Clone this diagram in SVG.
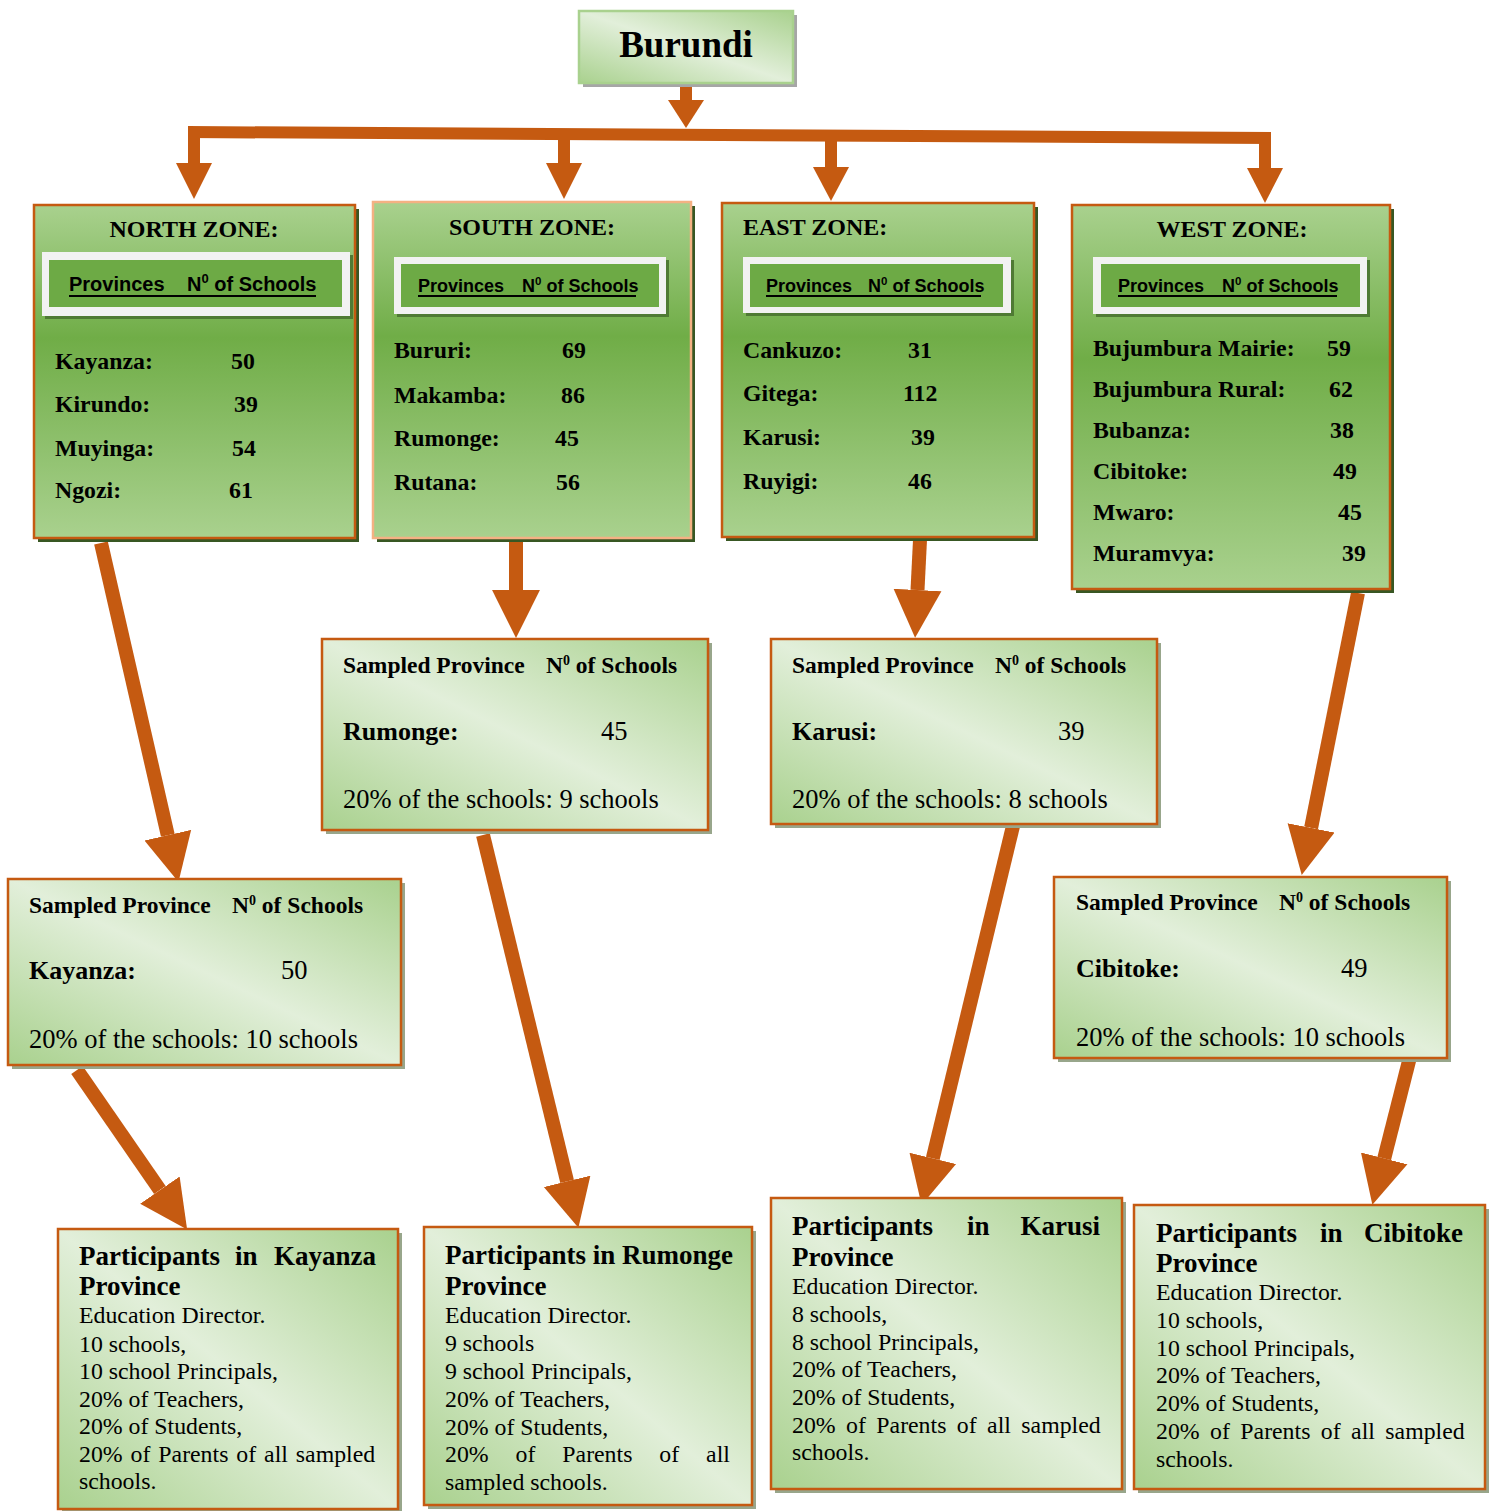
<svg xmlns="http://www.w3.org/2000/svg" width="1492" height="1511" viewBox="0 0 1492 1511">
<defs>
<linearGradient id="gz" x1="0" y1="0" x2="0" y2="1">
<stop offset="0" stop-color="#A9D18E"/><stop offset="0.4" stop-color="#70AD47"/><stop offset="1" stop-color="#A9D18E"/>
</linearGradient>
<linearGradient id="gl" x1="0" y1="1" x2="1" y2="0">
<stop offset="0" stop-color="#A9D18E"/><stop offset="0.5" stop-color="#E2EFDA"/><stop offset="1" stop-color="#A9D18E"/>
</linearGradient>
<marker id="ah" markerUnits="userSpaceOnUse" markerWidth="50" markerHeight="50" viewBox="0 -24 48 48" refX="0" refY="0" orient="auto">
<path d="M0,-23 L46,0 L0,23 Z" fill="#C55A11"/>
</marker>
<style>
.zone{fill:url(#gz);stroke:#C55A11;stroke-width:2.5}
.zsh{fill:#385723}
.lt{fill:url(#gl);stroke:#C55A11;stroke-width:2.5}
.lsh{fill:#98A68B}
.hf{fill:#F2F2F2}
.hg{fill:#6DAA45}
.hs{fill:#4F7A34}
.ul{stroke:#000;stroke-width:2}
text{fill:#000}
.zt{font:bold 24px "Liberation Serif",serif}
.zr{font:bold 23.8px "Liberation Serif",serif}
.hd{font:bold 20px "Liberation Sans",sans-serif}
.hd2{font:bold 18px "Liberation Sans",sans-serif}
.sh{font:bold 23.5px "Liberation Serif",serif}
.sn{font:bold 26px "Liberation Serif",serif}
.sv{font:26.5px "Liberation Serif",serif}
.pt{font:bold 27px "Liberation Serif",serif}
.pb{font:23.8px "Liberation Serif",serif}
.arr{stroke:#C55A11;stroke-width:14;fill:none;marker-end:url(#ah)}
.ar{fill:#C55A11}
</style>
</defs>

<g id="connectors">
<rect class="ar" x="680" y="83" width="12" height="18"/>
<polygon class="ar" points="668,100 704,100 686,128"/>
<polygon class="ar" points="188,126 1271,132 1271,144 188,138"/>
<rect class="ar" x="188" y="136" width="12" height="28"/>
<polygon class="ar" points="176,163 212,163 194,199"/>
<rect class="ar" x="558" y="136" width="12" height="28"/>
<polygon class="ar" points="546,163 582,163 564,199"/>
<rect class="ar" x="825" y="138" width="12" height="30"/>
<polygon class="ar" points="813,167 849,167 831,201"/>
<rect class="ar" x="1259" y="140" width="12" height="29"/>
<polygon class="ar" points="1247,168 1283,168 1265,203"/>
<line class="arr" x1="101" y1="543" x2="167.8" y2="835.2"/>
<line class="arr" x1="77" y1="1070" x2="159.9" y2="1190.1"/>
<line class="arr" x1="516" y1="540" x2="516" y2="590"/>
<line class="arr" x1="483" y1="835" x2="567.1" y2="1181.3"/>
<line class="arr" x1="920" y1="540" x2="917.5" y2="590"/>
<line class="arr" x1="1013" y1="826" x2="932.8" y2="1158.3"/>
<line class="arr" x1="1358" y1="593" x2="1311.1" y2="827.9"/>
<line class="arr" x1="1410" y1="1057" x2="1384.2" y2="1158.4"/>
</g>

<g id="burundi">
<rect x="583" y="15" width="214" height="72" fill="#A6A6A6"/>
<rect x="579" y="11" width="214" height="72" fill="url(#gl)" stroke="#A9D18E" stroke-width="2.5"/>
<text x="686" y="57" text-anchor="middle" style="font:bold 37px 'Liberation Serif',serif">Burundi</text>
</g>

<g id="north-zone">
<rect class="zsh" x="38" y="209" width="321" height="333"/>
<rect class="zone" x="34" y="205" width="321" height="333"/>
<text class="zt" x="194" y="237" text-anchor="middle">NORTH ZONE:</text>
<rect class="hs" x="45" y="255" width="308" height="64"/>
<rect class="hf" x="42" y="252" width="308" height="64"/>
<rect class="hg" x="49" y="260" width="293" height="47"/>
<text class="hd" x="69" y="291">Provinces<tspan x="187">N</tspan><tspan dy="-8" font-size="13">0</tspan><tspan dy="8"> of Schools</tspan></text>
<line class="ul" x1="69" y1="296" x2="316" y2="296"/>
<text class="zr" x="55" y="369">Kayanza:</text><text class="zr" x="231" y="369">50</text>
<text class="zr" x="55" y="412">Kirundo:</text><text class="zr" x="234" y="412">39</text>
<text class="zr" x="55" y="456">Muyinga:</text><text class="zr" x="232" y="456">54</text>
<text class="zr" x="55" y="498">Ngozi:</text><text class="zr" x="229" y="498">61</text>
</g>

<g id="south-zone">
<rect class="zsh" x="377" y="206" width="318" height="336"/>
<rect class="zone" x="373" y="202" width="318" height="336" style="stroke:#F4B183"/>
<text class="zt" x="532" y="235" text-anchor="middle">SOUTH ZONE:</text>
<rect class="hs" x="397" y="260" width="272" height="57"/>
<rect class="hf" x="394" y="257" width="272" height="57"/>
<rect class="hg" x="401" y="264" width="258" height="43"/>
<text class="hd2" x="418" y="292">Provinces<tspan x="522">N</tspan><tspan dy="-7" font-size="11.5">0</tspan><tspan dy="7"> of Schools</tspan></text>
<line class="ul" x1="418" y1="296" x2="636" y2="296"/>
<text class="zr" x="394" y="358">Bururi:</text><text class="zr" x="562" y="358">69</text>
<text class="zr" x="394" y="403">Makamba:</text><text class="zr" x="561" y="403">86</text>
<text class="zr" x="394" y="446">Rumonge:</text><text class="zr" x="555" y="446">45</text>
<text class="zr" x="394" y="490">Rutana:</text><text class="zr" x="556" y="490">56</text>
</g>

<g id="east-zone">
<rect class="zsh" x="726" y="207" width="312" height="334"/>
<rect class="zone" x="722" y="203" width="312" height="334"/>
<text class="zt" x="743" y="235">EAST ZONE:</text>
<rect class="hs" x="746" y="260" width="268" height="56"/>
<rect class="hf" x="743" y="257" width="268" height="56"/>
<rect class="hg" x="750" y="264" width="253" height="43"/>
<text class="hd2" x="766" y="292">Provinces<tspan x="868">N</tspan><tspan dy="-7" font-size="11.5">0</tspan><tspan dy="7"> of Schools</tspan></text>
<line class="ul" x1="766" y1="296" x2="981" y2="296"/>
<text class="zr" x="743" y="358">Cankuzo:</text><text class="zr" x="908" y="358">31</text>
<text class="zr" x="743" y="401">Gitega:</text><text class="zr" x="903" y="401">112</text>
<text class="zr" x="743" y="445">Karusi:</text><text class="zr" x="911" y="445">39</text>
<text class="zr" x="743" y="489">Ruyigi:</text><text class="zr" x="908" y="489">46</text>
</g>

<g id="west-zone">
<rect class="zsh" x="1076" y="209" width="318" height="384"/>
<rect class="zone" x="1072" y="205" width="318" height="384"/>
<text class="zt" x="1232" y="237" text-anchor="middle">WEST ZONE:</text>
<rect class="hs" x="1096" y="260" width="274" height="57"/>
<rect class="hf" x="1093" y="257" width="274" height="57"/>
<rect class="hg" x="1101" y="264" width="259" height="43"/>
<text class="hd2" x="1118" y="292">Provinces<tspan x="1222">N</tspan><tspan dy="-7" font-size="11.5">0</tspan><tspan dy="7"> of Schools</tspan></text>
<line class="ul" x1="1118" y1="296" x2="1337" y2="296"/>
<text class="zr" x="1093" y="356">Bujumbura Mairie:</text><text class="zr" x="1327" y="356">59</text>
<text class="zr" x="1093" y="397">Bujumbura Rural:</text><text class="zr" x="1329" y="397">62</text>
<text class="zr" x="1093" y="438">Bubanza:</text><text class="zr" x="1330" y="438">38</text>
<text class="zr" x="1093" y="479">Cibitoke:</text><text class="zr" x="1333" y="479">49</text>
<text class="zr" x="1093" y="520">Mwaro:</text><text class="zr" x="1338" y="520">45</text>
<text class="zr" x="1093" y="561">Muramvya:</text><text class="zr" x="1342" y="561">39</text>
</g>

<g id="sampled-rumonge">
<rect class="lsh" x="326" y="643" width="386" height="191"/>
<rect class="lt" x="322" y="639" width="386" height="191"/>
<text class="sh" x="343" y="673">Sampled Province<tspan x="546">N</tspan><tspan dy="-8" font-size="14">0</tspan><tspan dy="8"> of Schools</tspan></text>
<text class="sn" x="343" y="740">Rumonge:</text><text class="sv" x="601" y="740">45</text>
<text class="sv" x="343" y="808">20% of the schools: 9 schools</text>
</g>

<g id="sampled-karusi">
<rect class="lsh" x="775" y="643" width="386" height="185"/>
<rect class="lt" x="771" y="639" width="386" height="185"/>
<text class="sh" x="792" y="673">Sampled Province<tspan x="995">N</tspan><tspan dy="-8" font-size="14">0</tspan><tspan dy="8"> of Schools</tspan></text>
<text class="sn" x="792" y="740">Karusi:</text><text class="sv" x="1058" y="740">39</text>
<text class="sv" x="792" y="808">20% of the schools: 8 schools</text>
</g>

<g id="sampled-kayanza">
<rect class="lsh" x="12" y="883" width="393" height="186"/>
<rect class="lt" x="8" y="879" width="393" height="186"/>
<text class="sh" x="29" y="913">Sampled Province<tspan x="232">N</tspan><tspan dy="-8" font-size="14">0</tspan><tspan dy="8"> of Schools</tspan></text>
<text class="sn" x="29" y="979">Kayanza:</text><text class="sv" x="281" y="979">50</text>
<text class="sv" x="29" y="1048">20% of the schools: 10 schools</text>
</g>

<g id="sampled-cibitoke">
<rect class="lsh" x="1058" y="881" width="393" height="181"/>
<rect class="lt" x="1054" y="877" width="393" height="181"/>
<text class="sh" x="1076" y="910">Sampled Province<tspan x="1279">N</tspan><tspan dy="-8" font-size="14">0</tspan><tspan dy="8"> of Schools</tspan></text>
<text class="sn" x="1076" y="977">Cibitoke:</text><text class="sv" x="1341" y="977">49</text>
<text class="sv" x="1076" y="1046">20% of the schools: 10 schools</text>
</g>

<g id="participants-kayanza">
<rect class="lsh" x="62" y="1233" width="340" height="280"/>
<rect class="lt" x="58" y="1229" width="340" height="280"/>
<text class="pt" y="1265"><tspan x="79">Participants</tspan><tspan x="235">in</tspan><tspan x="376" text-anchor="end">Kayanza</tspan></text>
<text class="pt" x="79" y="1295">Province</text>
<text class="pb" x="79" y="1323">Education Director.</text>
<text class="pb" x="79" y="1352">10 schools,</text>
<text class="pb" x="79" y="1379">10 school Principals,</text>
<text class="pb" x="79" y="1407">20% of Teachers,</text>
<text class="pb" x="79" y="1434">20% of Students,</text>
<text class="pb" x="79" y="1462" word-spacing="2">20% of Parents of all sampled</text>
<text class="pb" x="79" y="1489">schools.</text>
</g>

<g id="participants-rumonge">
<rect class="lsh" x="428" y="1231" width="328" height="278"/>
<rect class="lt" x="424" y="1227" width="328" height="278"/>
<text class="pt" x="445" y="1264">Participants in Rumonge</text>
<text class="pt" x="445" y="1295">Province</text>
<text class="pb" x="445" y="1323">Education Director.</text>
<text class="pb" x="445" y="1351">9 schools</text>
<text class="pb" x="445" y="1379">9 school Principals,</text>
<text class="pb" x="445" y="1407">20% of Teachers,</text>
<text class="pb" x="445" y="1435">20% of Students,</text>
<text class="pb" x="445" y="1462" word-spacing="21">20% of Parents of all</text>
<text class="pb" x="445" y="1490">sampled schools.</text>
</g>

<g id="participants-karusi">
<rect class="lsh" x="775" y="1202" width="351" height="291"/>
<rect class="lt" x="771" y="1198" width="351" height="291"/>
<text class="pt" y="1235"><tspan x="792">Participants</tspan><tspan x="967">in</tspan><tspan x="1100" text-anchor="end">Karusi</tspan></text>
<text class="pt" x="792" y="1266">Province</text>
<text class="pb" x="792" y="1294">Education Director.</text>
<text class="pb" x="792" y="1322">8 schools,</text>
<text class="pb" x="792" y="1350">8 school Principals,</text>
<text class="pb" x="792" y="1377">20% of Teachers,</text>
<text class="pb" x="792" y="1405">20% of Students,</text>
<text class="pb" x="792" y="1433" word-spacing="4.5">20% of Parents of all sampled</text>
<text class="pb" x="792" y="1460">schools.</text>
</g>

<g id="participants-cibitoke">
<rect class="lsh" x="1138" y="1209" width="351" height="284"/>
<rect class="lt" x="1134" y="1205" width="351" height="284"/>
<text class="pt" y="1242"><tspan x="1156">Participants</tspan><tspan x="1320">in</tspan><tspan x="1463" text-anchor="end">Cibitoke</tspan></text>
<text class="pt" x="1156" y="1272">Province</text>
<text class="pb" x="1156" y="1300">Education Director.</text>
<text class="pb" x="1156" y="1328">10 schools,</text>
<text class="pb" x="1156" y="1356">10 school Principals,</text>
<text class="pb" x="1156" y="1383">20% of Teachers,</text>
<text class="pb" x="1156" y="1411">20% of Students,</text>
<text class="pb" x="1156" y="1439" word-spacing="4.5">20% of Parents of all sampled</text>
<text class="pb" x="1156" y="1467">schools.</text>
</g>
</svg>
